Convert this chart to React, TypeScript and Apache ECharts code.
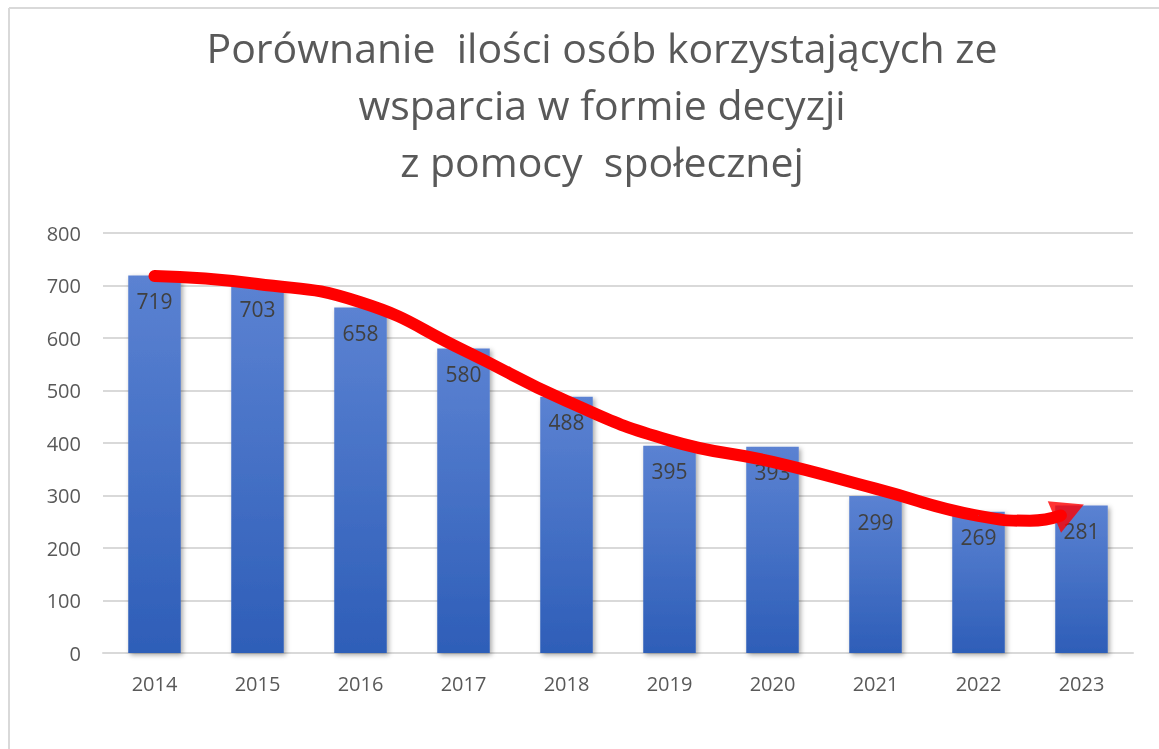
import React, { useEffect, useRef } from "react";
import * as echarts from "echarts";

const titleLines = [
  "Porównanie  ilości osób korzystających ze",
  "wsparcia w formie decyzji",
  "z pomocy  społecznej",
];
const years = ["2014", "2015", "2016", "2017", "2018", "2019", "2020", "2021", "2022", "2023"];
const values = [719, 703, 658, 580, 488, 395, 393, 299, 269, 281];
const yTicks = { min: 0, max: 800, interval: 100 };
// hand-drawn red trend arrow (x as category index, y as value)
const trendCurve: [number, number][] = [
  [0, 718], [1, 703], [2, 668], [3, 577], [4, 480], [5, 405], [6, 364], [7, 313], [8, 261], [8.5, 252], [8.8, 262],
];
const arrowHead: [number, number][] = [[8.88, 271]];

export default function App() {
  const ref = useRef<HTMLDivElement>(null);
  useEffect(() => {
    if (!ref.current) return;
    const chart = echarts.init(ref.current, undefined, { renderer: "svg" });
    const font = "'Open Sans', 'Noto Sans', sans-serif";
    chart.setOption({
      animation: false,
      title: {
        text: titleLines.join("\n"),
        left: 597,
        textAlign: "center",
        top: 13,
        textStyle: { fontFamily: font, fontSize: 41, fontWeight: "normal", color: "#595959", lineHeight: 57, align: "center" },
      },
      graphic: [
        { type: "line", shape: { x1: 9, y1: 8, x2: 1159, y2: 8 }, style: { stroke: "#d9d9d9", lineWidth: 2 } },
        { type: "line", shape: { x1: 9, y1: 8, x2: 9, y2: 749 }, style: { stroke: "#d9d9d9", lineWidth: 2 } },
      ],
      grid: { left: 103, right: 26, top: 233, bottom: 96, containLabel: false },
      xAxis: [
        {
          type: "category",
          data: years,
          axisLine: { lineStyle: { color: "#d9d9d9", width: 2 } },
          axisTick: { show: false },
          axisLabel: { color: "#595959", fontSize: 20, fontFamily: font, margin: 20 },
        },
        { type: "value", min: -0.5, max: 9.5, show: false },
      ],
      yAxis: {
        type: "value",
        min: yTicks.min,
        max: yTicks.max,
        interval: yTicks.interval,
        axisLine: { show: false },
        axisTick: { show: false },
        splitLine: { lineStyle: { color: "#d9d9d9", width: 2 } },
        axisLabel: { color: "#595959", fontSize: 20, fontFamily: font, margin: 22 },
      },
      series: [
        {
          type: "bar",
          data: values,
          barWidth: "51%",
          itemStyle: {
            color: new echarts.graphic.LinearGradient(0, 0, 0, 1, [
              { offset: 0, color: "#5b82d2" },
              { offset: 1, color: "#2e5eb8" },
            ]),
            shadowColor: "rgba(0,0,0,0.35)",
            shadowBlur: 5,
            shadowOffsetX: 2,
            shadowOffsetY: 2,
          },
          label: {
            show: true,
            position: "insideTop",
            distance: 15,
            color: "#404040",
            fontSize: 21,
            fontFamily: font,
          },
        },
        {
          type: "line",
          xAxisIndex: 1,
          data: trendCurve,
          smooth: 0.5,
          symbol: "none",
          lineStyle: { color: "#ff0000", width: 12, cap: "round" },
          z: 5,
        },
        {
          type: "scatter",
          xAxisIndex: 1,
          data: arrowHead,
          symbol: "triangle",
          symbolSize: [34, 32],
          symbolRotate: -67,
          itemStyle: { color: "#ff0000" },
          z: 6,
        },
      ],
    });
    return () => chart.dispose();
  }, []);
  return <div ref={ref} style={{ position: "fixed", left: 0, top: 0, width: 1159, height: 749 }} />;
}
